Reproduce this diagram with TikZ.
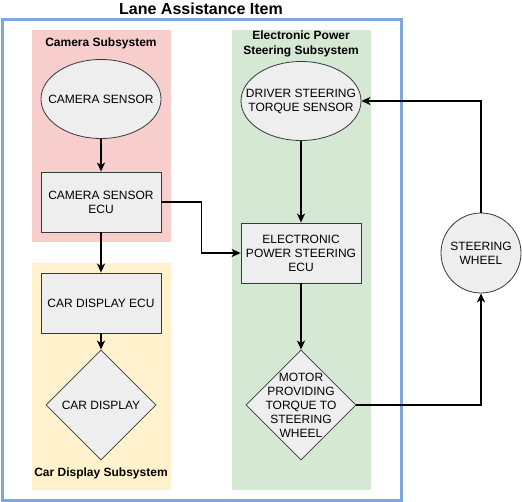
\documentclass[tikz,border=0pt]{standalone}
\usepackage{fontspec}
\setmainfont{Liberation Sans}
\usetikzlibrary{arrows.meta,shapes.geometric}
\definecolor{outerblue}{HTML}{7EA6E0}
\definecolor{pinkbg}{HTML}{F8CECC}
\definecolor{yellowbg}{HTML}{FFF2CC}
\definecolor{greenbg}{HTML}{D5E8D4}
\definecolor{nodefill}{HTML}{EEEEEE}
\definecolor{nodeline}{HTML}{36393D}
\tikzset{
  every node/.style={font=\fontsize{12}{14}\selectfont, align=center, inner sep=0pt},
  boxnode/.style={draw=nodeline, fill=nodefill, line width=0.8pt, minimum width=120pt, minimum height=60pt},
  ellnode/.style={ellipse, draw=nodeline, fill=nodefill, line width=0.8pt, minimum width=120pt, minimum height=79pt},
  dianode/.style={diamond, draw=nodeline, fill=nodefill, line width=0.8pt, minimum width=110pt, minimum height=110pt, aspect=1},
  circnode/.style={circle, draw=nodeline, fill=nodefill, line width=0.8pt, minimum size=80pt},
  grouplabel/.style={font=\bfseries\fontsize{12}{14}\selectfont},
  flow/.style={draw=black, line width=1.8pt, -{Stealth[length=9pt,width=8pt,inset=2.5pt]}}
}
\begin{document}
\begin{tikzpicture}[x=1pt,y=-1pt]
\useasboundingbox (0,0) rectangle (522,502);
% subsystem backgrounds
\fill[pinkbg] (32,30) rectangle (171,242);
\fill[yellowbg] (32,263) rectangle (171,490);
\fill[greenbg] (232,30) rectangle (371,490);
% outer item
\draw[outerblue, line width=3pt] (2,20) rectangle (401,500);
\node[font=\bfseries\fontsize{16}{18}\selectfont] (title) at (201,9) {Lane Assistance Item};
\node[grouplabel] (camlbl) at (101,43) {Camera Subsystem};
\node[grouplabel] (displbl) at (101,473) {Car Display Subsystem};
\node[font=\bfseries\fontsize{12}{15}\selectfont] (epslbl) at (301,44) {Electronic Power\\Steering Subsystem};
% nodes
\node[ellnode, label={center:CAMERA SENSOR}] (cams) at (101,99) {};
\node[boxnode] (camecu) at (101,202) {CAMERA SENSOR\\ECU};
\node[boxnode] (dispecu) at (101,303) {CAR DISPLAY ECU};
\node[dianode, label={center:CAR DISPLAY}] (disp) at (101,405) {};
\node[ellnode, label={center:DRIVER STEERING\\TORQUE SENSOR}] (dsts) at (301,101) {};
\node[boxnode] (epsecu) at (301,253) {ELECTRONIC\\POWER STEERING\\ECU};
\node[dianode, label={center:MOTOR\\PROVIDING\\TORQUE TO\\STEERING\\WHEEL}] (motor) at (301,405) {};
\node[circnode] (wheel) at (481,253) {STEERING\\WHEEL};
% connectors
\draw[flow] (cams) -- (camecu);
\draw[flow] (camecu) -- (dispecu);
\draw[flow] (dispecu) -- (disp);
\draw[flow] (camecu.east) -- ++(40,0) |- (epsecu.west);
\draw[flow] (dsts) -- (epsecu);
\draw[flow] (epsecu) -- (motor);
\draw[flow] (motor.east) -| (wheel.south);
\draw[flow] (wheel.north) |- (dsts.east);
\end{tikzpicture}
\end{document}
